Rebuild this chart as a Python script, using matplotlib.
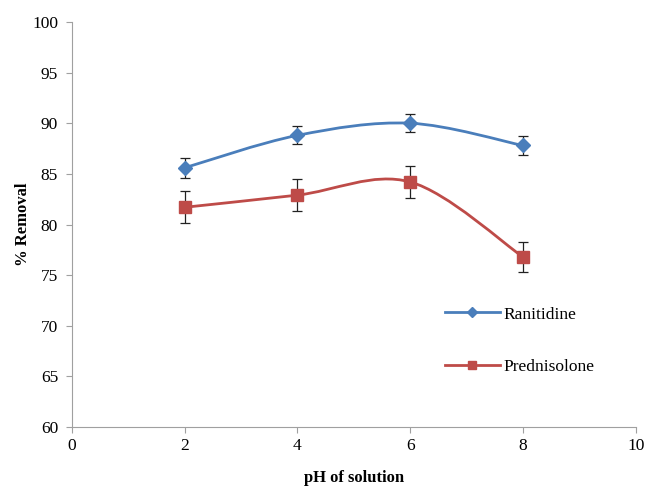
import numpy as np
import matplotlib
matplotlib.use('Agg')
import matplotlib.pyplot as plt
from matplotlib.path import Path
from matplotlib.patches import PathPatch

ph = [2, 4, 6, 8]
ranitidine = [85.6, 88.8, 90.0, 87.8]
ranitidine_err = [1.0, 0.9, 0.9, 0.9]
prednisolone = [81.7, 82.9, 84.2, 76.8]
prednisolone_err = [1.6, 1.6, 1.6, 1.5]

plt.rcParams['font.family'] = ['Liberation Serif', 'DejaVu Serif']


def smooth_path(x, y):
    # Excel style smoothed line: cubic Bezier with 1/6 tension
    pts = np.column_stack([x, y]).astype(float)
    n = len(pts)
    verts = [pts[0]]
    codes = [Path.MOVETO]
    for i in range(n - 1):
        p0 = pts[i - 1] if i > 0 else pts[i]
        p1 = pts[i]
        p2 = pts[i + 1]
        p3 = pts[i + 2] if i + 2 < n else pts[i + 1]
        c1 = p1 + (p2 - p0) / 6.0
        c2 = p2 - (p3 - p1) / 6.0
        verts += [c1, c2, p2]
        codes += [Path.CURVE4] * 3
    return Path(verts, codes)


fig = plt.figure(figsize=(6.48, 4.87), dpi=100)
ax = fig.add_axes([0.111, 0.123, 0.87, 0.832])

series = [
    (ranitidine, ranitidine_err, '#4A7EBB', 'D', 7, 'Ranitidine'),
    (prednisolone, prednisolone_err, '#BE4B48', 's', 8, 'Prednisolone'),
]
handles = []
for vals, err, col, mk, ms, lab in series:
    ax.add_patch(PathPatch(smooth_path(ph, vals), facecolor='none',
                           edgecolor=col, lw=2.0, zorder=2))
    ax.errorbar(ph, vals, yerr=err, fmt='none', ecolor='#222222',
                elinewidth=0.9, capsize=3.5, capthick=0.9, zorder=3)
    ax.plot(ph, vals, ls='none', marker=mk, ms=ms, color=col, zorder=4)
    lh, = ax.plot([], [], color=col, lw=2.0, marker=mk, ms=ms, label=lab)
    handles.append(lh)

ax.set_xlim(0, 10)
ax.set_ylim(60, 100)
ax.set_xticks(range(0, 11, 2))
ax.set_yticks(range(60, 101, 5))
for s in ['top', 'right']:
    ax.spines[s].set_visible(False)
for s in ['left', 'bottom']:
    ax.spines[s].set_color('#A0A0A0')
ax.tick_params(colors='#A0A0A0', labelcolor='black', labelsize=12.5,
               direction='out', length=4)
ax.tick_params(axis='y', pad=6)
ax.set_xlabel('pH of solution', fontsize=12, fontweight='bold', labelpad=12)
ax.set_ylabel('% Removal', fontsize=12, fontweight='bold', labelpad=1)

fig.legend(handles=handles, loc='upper left', bbox_to_anchor=(0.662, 0.403),
           frameon=False, fontsize=12.5, handlelength=3.2, handletextpad=0.2,
           labelspacing=2.1, markerscale=0.75)

fig.savefig('out.png', dpi=100)
